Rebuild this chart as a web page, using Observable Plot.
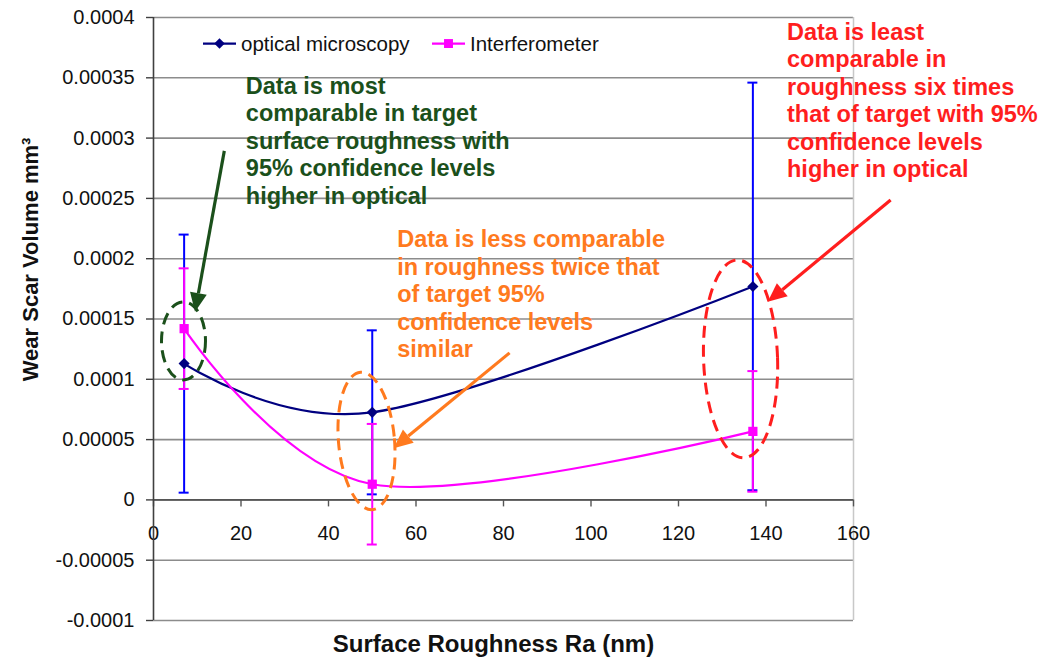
<!DOCTYPE html>
<html>
<head>
<meta charset="utf-8">
<script src="https://cdn.jsdelivr.net/npm/d3@7"></script>
<script src="https://cdn.jsdelivr.net/npm/@observablehq/plot@0.6"></script>
<style>
  html, body { margin: 0; padding: 0; background: #fff; }
  #chart svg { display: block; }
</style>
</head>
<body>
<div id="chart"></div>
<script>
// ---------- data ----------
const roughness = [7, 50, 137];                       // Surface Roughness Ra (nm)
const opticalVolume = [0.000113, 0.0000726, 0.000177]; // optical microscopy, mm^3
const opticalError = [0.000107, 0.000068, 0.000169];  // 95% confidence half-width
const interfVolume = [0.000142, 0.000013, 0.0000568];  // Interferometer, mm^3
const interfError = [0.00005, 0.00005, 0.00005];
const seriesNames = ["optical microscopy", "Interferometer"];
const xTicks = [0, 20, 40, 60, 80, 100, 120, 140, 160];
const yTicks = [-0.0001, -0.00005, 0, 0.00005, 0.0001, 0.00015, 0.0002, 0.00025, 0.0003, 0.00035, 0.0004];
const xTitle = "Surface Roughness Ra (nm)";
const yTitle = "Wear Scar Volume mm³";
const noteTexts = [
  "Data is most\ncomparable in target\nsurface roughness with\n95% confidence levels\nhigher in optical",
  "Data is less comparable\nin roughness twice that\nof target 95%\nconfidence levels\nsimilar",
  "Data is least\ncomparable in\nroughness six times\nthat of target with 95%\nconfidence levels\nhigher in optical"
];
const noteColors = ["#1b501b", "#ff7a1e", "#ff1e1e"];

// ---------- derived tables ----------
const optical = roughness.map((x, i) => ({x, y: opticalVolume[i], lo: opticalVolume[i] - opticalError[i], hi: opticalVolume[i] + opticalError[i]}));
const interf = roughness.map((x, i) => ({x, y: interfVolume[i], lo: interfVolume[i] - interfError[i], hi: interfVolume[i] + interfError[i]}));

// annotation anchors (data coordinates)
const notes = [
  {text: noteTexts[0], color: noteColors[0], x: 21.1, y: 0.0002985},
  {text: noteTexts[1], color: noteColors[1], x: 55.7, y: 0.0001712},
  {text: noteTexts[2], color: noteColors[2], x: 144.8, y: 0.0003317}
];
const rings = [
  {x: 6.97, y: 0.0001314, rx: 22, ry: 39, rot: 0, color: noteColors[0]},
  {x: 48.8, y: 0.0000485, rx: 28, ry: 69, rot: -5, color: noteColors[1]},
  {x: 134.3, y: 0.0001165, rx: 37, ry: 99, rot: -2, color: noteColors[2]}
];
const pointers = [
  {x1: 16.3, y1: 0.000289, x2: 9.6, y2: 0.0001555, color: noteColors[0]},
  {x1: 81.5, y1: 0.0001215, x2: 55.0, y2: 0.0000425, color: noteColors[1]},
  {x1: 168.6, y1: 0.0002483, x2: 140.5, y2: 0.0001638, color: noteColors[2]}
];
const yTitleAt = {x: -28, y: 0.0001994};

const fmt = d => d === 0 ? "0" : String(+d.toFixed(6));
const font = "'Liberation Sans', Arial, Helvetica, sans-serif";

const chart = Plot.plot({
  width: 1054,
  height: 663,
  marginLeft: 153,
  marginRight: 201,
  marginTop: 17,
  marginBottom: 43,
  style: {fontFamily: font, background: "#fff", color: "#000", overflow: "visible"},
  x: {domain: [0, 160], axis: null},
  y: {domain: [-0.0001, 0.0004], axis: null},
  marks: [
    Plot.gridY(yTicks, {stroke: "#8c8c8c", strokeOpacity: 1, strokeWidth: 1.6}),
    Plot.ruleX([160], {stroke: "#c8c8c8", strokeWidth: 1.5}),
    Plot.ruleY([0], {stroke: "#555", strokeWidth: 1.6}),
    Plot.ruleX(xTicks, {x: d => d, y1: 0, y2: 0, insetBottom: -7, stroke: "#555", strokeWidth: 1.4}),
    Plot.text(xTicks, {x: d => d, y: 0, dy: 34, text: d => String(d), fontSize: 20, fill: "#111"}),
    Plot.axisY(yTicks, {tickSize: 7, tickPadding: 12, fontSize: 20, tickFormat: fmt, stroke: "#404040", strokeWidth: 1.4, fill: "#111", label: null}),
    Plot.ruleX([0], {stroke: "#404040", strokeWidth: 1.6}),

    // error bars
    Plot.ruleX(optical, {x: "x", y1: "lo", y2: "hi", stroke: "#0000ff", strokeWidth: 2}),
    Plot.ruleY(optical, {y: "lo", x1: "x", x2: "x", insetLeft: -5, insetRight: -5, stroke: "#0000ff", strokeWidth: 2}),
    Plot.ruleY(optical, {y: "hi", x1: "x", x2: "x", insetLeft: -5, insetRight: -5, stroke: "#0000ff", strokeWidth: 2}),
    Plot.ruleX(interf, {x: "x", y1: "lo", y2: "hi", stroke: "#ff00ff", strokeWidth: 2}),
    Plot.ruleY(interf, {y: "lo", x1: "x", x2: "x", insetLeft: -5, insetRight: -5, stroke: "#ff00ff", strokeWidth: 2}),
    Plot.ruleY(interf, {y: "hi", x1: "x", x2: "x", insetLeft: -5, insetRight: -5, stroke: "#ff00ff", strokeWidth: 2}),

    // series
    Plot.line(optical, {x: "x", y: "y", stroke: "#000080", strokeWidth: 2.2, curve: "cardinal"}),
    Plot.line(interf, {x: "x", y: "y", stroke: "#ff00ff", strokeWidth: 2.2, curve: "cardinal"}),
    Plot.dot(optical, {x: "x", y: "y", symbol: "diamond2", r: 5, fill: "#000080", stroke: "none"}),
    Plot.dot(interf, {x: "x", y: "y", symbol: "square", r: 5.2, fill: "#ff00ff", stroke: "none"}),

    // annotations
    Plot.text(notes, {x: "x", y: "y", text: "text", fill: "color", fontSize: 23.5, fontWeight: "bold", textAnchor: "start", lineAnchor: "middle", lineHeight: 1.17}),

    // axis titles
    Plot.text([xTitle], {frameAnchor: "bottom", text: d => d, dx: -10, dy: 31, fontSize: 24, fontWeight: "bold", fill: "#111"}),
    Plot.text([yTitle], {x: yTitleAt.x, y: yTitleAt.y, text: d => d, rotate: -90, fontSize: 22, fontWeight: "bold", fill: "#111"})
  ]
});

// ---------- overlays drawn with the chart's own scales ----------
const sx = chart.scale("x"), sy = chart.scale("y");
const svg = d3.select(chart);
const over = svg.append("g").attr("fill", "none");

over.selectAll("ellipse").data(rings).join("ellipse")
  .attr("transform", d => `translate(${sx.apply(d.x)},${sy.apply(d.y)}) rotate(${d.rot})`)
  .attr("rx", d => d.rx).attr("ry", d => d.ry)
  .attr("stroke", d => d.color).attr("stroke-width", 3)
  .attr("stroke-dasharray", "12 7");

const headLen = 19, headHalf = 8.5;
pointers.forEach(p => {
  const x1 = sx.apply(p.x1), y1 = sy.apply(p.y1), x2 = sx.apply(p.x2), y2 = sy.apply(p.y2);
  const a = Math.atan2(y2 - y1, x2 - x1);
  const bx = x2 - headLen * Math.cos(a), by = y2 - headLen * Math.sin(a);
  over.append("line").attr("x1", x1).attr("y1", y1).attr("x2", bx).attr("y2", by)
    .attr("stroke", p.color).attr("stroke-width", 3.2);
  const px = -Math.sin(a) * headHalf, py = Math.cos(a) * headHalf;
  over.append("path")
    .attr("d", `M${x2},${y2}L${bx + px},${by + py}L${bx - px},${by - py}Z`)
    .attr("fill", p.color);
});

// legend (inside plot, top)
const leg = svg.append("g").attr("font-family", font).attr("font-size", 20.5).attr("text-anchor", "start");
const legendItems = [
  {name: seriesNames[0], color: "#000080", symbol: d3.symbolDiamond2, size: 70, x: 203},
  {name: seriesNames[1], color: "#ff00ff", symbol: d3.symbolSquare, size: 80, x: 432}
];
const legY = sy.apply(0.000378);
legendItems.forEach(it => {
  leg.append("line").attr("x1", it.x).attr("x2", it.x + 33).attr("y1", legY).attr("y2", legY)
    .attr("stroke", it.color).attr("stroke-width", 2.2);
  leg.append("path").attr("d", d3.symbol(it.symbol, it.size)()).attr("transform", `translate(${it.x + 16.5},${legY})`)
    .attr("fill", it.color);
  leg.append("text").attr("x", it.x + 38).attr("y", legY).attr("dy", "0.35em").attr("text-anchor", "start")
    .attr("fill", "#111").text(it.name);
});

document.getElementById("chart").appendChild(chart);
</script>
</body>
</html>
